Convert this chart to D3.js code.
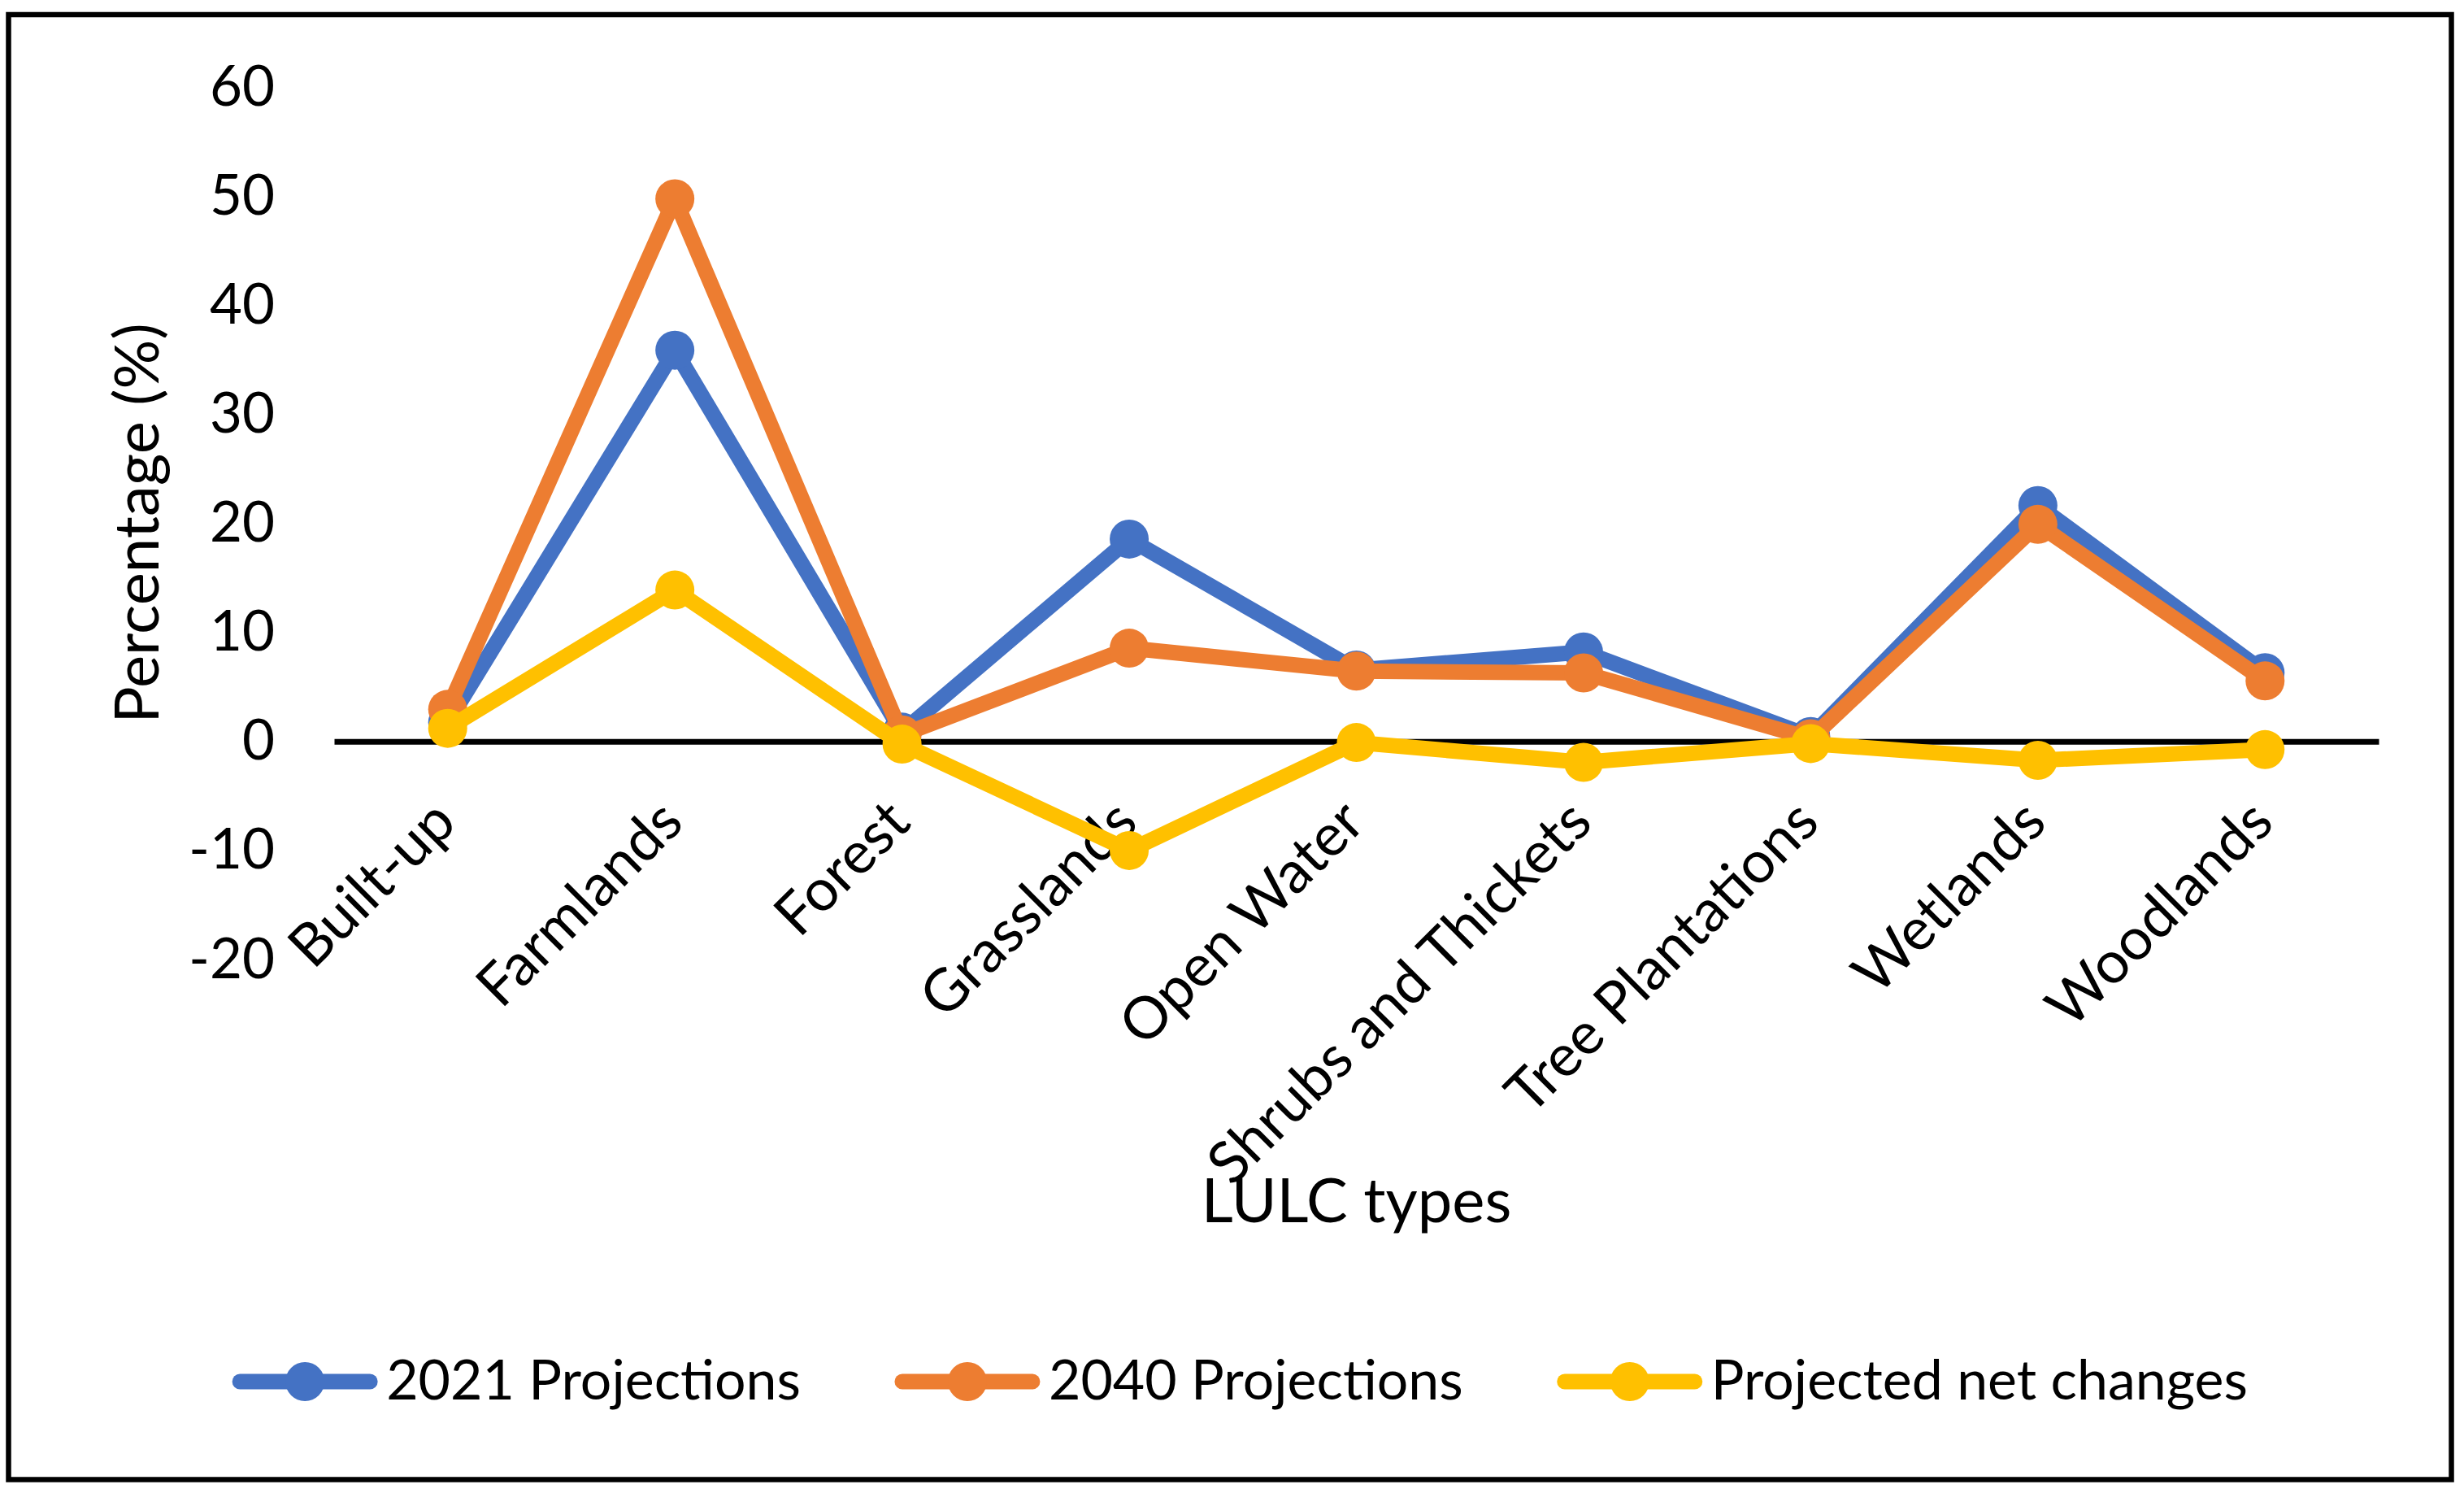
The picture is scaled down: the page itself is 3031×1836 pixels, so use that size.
<!DOCTYPE html>
<html>
<head>
<meta charset="utf-8">
<script src="https://cdn.jsdelivr.net/npm/d3@7"></script>
<style>
  html, body { margin: 0; padding: 0; background: #ffffff; }
  svg { display: block; }
  text { font-family: Lato, "Open Sans", "Liberation Sans", sans-serif; fill: #000; }
</style>
</head>
<body>
<svg id="chart" width="3031" height="1836"></svg>
<script>
// ---- data ----
const categories = ["Built-up", "Farmlands", "Forest", "Grasslands", "Open Water",
  "Shrubs and Thickets", "Tree Plantations", "Wetlands", "Woodlands"];
const proj2021 = [1.74, 35.87, 0.85, 18.55, 6.55, 8.2, 0.45, 21.63, 6.3];
const proj2040 = [2.94, 49.75, 0.6, 8.55, 6.45, 6.28, 0.25, 19.9, 5.55];
const netChange = [1.2, 13.88, -0.25, -10.0, -0.1, -1.92, -0.2, -1.73, -0.75];
const yTicks = [-20, -10, 0, 10, 20, 30, 40, 50, 60];
const yTickLabels = ["-20", "-10", "0", "10", "20", "30", "40", "50", "60"];
const seriesNames = ["2021 Projections", "2040 Projections", "Projected net changes"];
const seriesColors = ["#4472C4", "#ED7D31", "#FFC000"];
const xTitle = "LULC types";
const yTitle = "Percentage (%)";

const series = [proj2021, proj2040, netChange].map((vals, i) => ({
  name: seriesNames[i], color: seriesColors[i],
  points: vals.map((v, j) => ({ cat: categories[j], value: v }))
}));

// ---- layout ----
const W = 3031, H = 1836;
const plot = { left: 411, right: 2926, top: 107, bottom: 1180 };
const svg = d3.select("#chart");

svg.append("rect").attr("x", 0).attr("y", 0).attr("width", W).attr("height", H).attr("fill", "#fff");
svg.append("rect")
  .attr("x", 10.5).attr("y", 18).attr("width", 3005).attr("height", 1801.5)
  .attr("fill", "none").attr("stroke", "#000").attr("stroke-width", 6.5);

const x = d3.scalePoint().domain(categories).range([plot.left, plot.right]).padding(0.5);
const y = d3.scaleLinear().domain([-20, 60]).range([plot.bottom, plot.top]);

// y axis (labels only)
const yAxis = svg.append("g")
  .attr("transform", "translate(338,0)")
  .call(d3.axisLeft(y).tickValues(yTicks).tickSize(0).tickPadding(0)
    .tickFormat((d, i) => yTickLabels[i]));
yAxis.select(".domain").remove();
yAxis.selectAll("text")
  .attr("font-size", 69).attr("font-family", "Lato, 'Open Sans', sans-serif").attr("fill", "#000");

// x axis at zero
const xAxis = svg.append("g")
  .attr("transform", `translate(0,${y(0)})`)
  .call(d3.axisBottom(x).tickSize(0).tickSizeOuter(0));
xAxis.select(".domain").attr("stroke", "#000").attr("stroke-width", 7);
xAxis.selectAll("text")
  .attr("font-size", 72).attr("font-family", "Lato, 'Open Sans', sans-serif").attr("fill", "#000")
  .attr("x", 0).attr("y", 0).attr("dy", 0)
  .attr("text-anchor", "end")
  .attr("transform", "translate(13,103) rotate(-45)");

// lines
const line = d3.line().x(d => x(d.cat)).y(d => y(d.value));
const sg = svg.append("g").selectAll("g.series").data(series).join("g").attr("class", "series");
sg.append("path")
  .attr("d", d => line(d.points))
  .attr("fill", "none").attr("stroke", d => d.color)
  .attr("stroke-width", 19).attr("stroke-linejoin", "round").attr("stroke-linecap", "round");
sg.selectAll("circle").data(d => d.points.map(p => ({ ...p, color: d.color }))).join("circle")
  .attr("cx", d => x(d.cat)).attr("cy", d => y(d.value)).attr("r", 24)
  .attr("fill", d => d.color);

// axis titles
svg.append("text").text(xTitle)
  .attr("x", (plot.left + plot.right) / 2).attr("y", 1503)
  .attr("text-anchor", "middle").attr("font-size", 76);
svg.append("text").text(yTitle)
  .attr("text-anchor", "middle").attr("font-size", 76)
  .attr("transform", `translate(195,${(plot.top + plot.bottom) / 2}) rotate(-90)`);

// legend
const legend = svg.append("g");
const items = legend.selectAll("g").data(series).join("g");
items.append("line")
  .attr("x1", 10).attr("x2", 170).attr("y1", 0).attr("y2", 0)
  .attr("stroke", d => d.color).attr("stroke-width", 19).attr("stroke-linecap", "round");
items.append("circle").attr("cx", 90).attr("cy", 0).attr("r", 24).attr("fill", d => d.color);
items.append("text").text(d => d.name)
  .attr("x", 190).attr("y", 22).attr("font-size", 68);
const widths = [];
items.each(function() { widths.push(190 + d3.select(this).select("text").node().getComputedTextLength()); });
const gapItems = 115;
const total = d3.sum(widths) + gapItems * (widths.length - 1);
let cx = 1525 - total / 2;
items.attr("transform", (d, i) => {
  const t = `translate(${cx},1699)`;
  cx += widths[i] + gapItems;
  return t;
});
</script>
</body>
</html>
